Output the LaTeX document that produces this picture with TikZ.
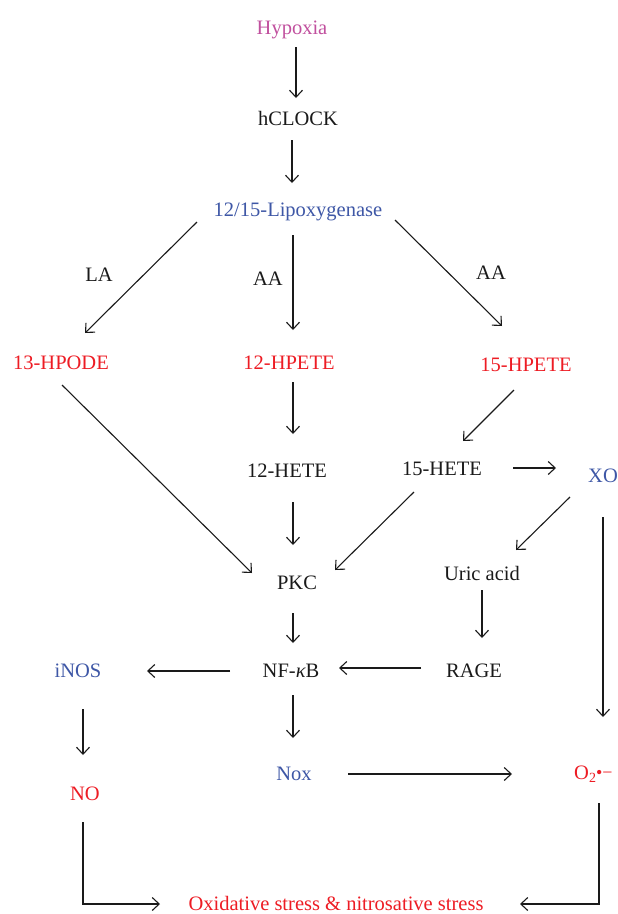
\documentclass[tikz,border=0pt]{standalone}
\usepackage{fontspec}
\setmainfont{Liberation Serif}
\usetikzlibrary{arrows.meta}
\definecolor{hypcol}{HTML}{C1509E}
\definecolor{bluecol}{HTML}{3E57A6}
\definecolor{redcol}{HTML}{ED1C24}
\definecolor{txtcol}{HTML}{1A1A1A}
\tikzset{
  lbl/.style={inner sep=0pt, anchor=base, text=txtcol, font=\fontsize{20.5}{24}\selectfont},
  redlbl/.style={lbl, text=redcol},
  bluelbl/.style={lbl, text=bluecol},
  arr/.style={line width=1.1pt, draw=txtcol, -{Straight Barb[length=7pt,width=13pt,line width=1.1pt]}},
}
\begin{document}
\begin{tikzpicture}[x=1pt,y=-1pt]
\useasboundingbox (0,0) rectangle (618,914);
% nodes
\node[lbl, text=hypcol] (hyp) at (292,34) {Hypoxia};
\node[lbl] (hc) at (298,125) {hCLOCK};
\node[bluelbl] (lip) at (298,216) {12/15-Lipoxygenase};
\node[lbl] (la) at (99,281) {LA};
\node[lbl] (aa1) at (268,285) {AA};
\node[lbl] (aa2) at (491,279) {AA};
\node[redlbl] (hpode) at (61,369) {13-HPODE};
\node[redlbl] (hpete12) at (289,369) {12-HPETE};
\node[redlbl] (hpete15) at (526,371) {15-HPETE};
\node[lbl] (hete12) at (287,477) {12-HETE};
\node[lbl] (hete15) at (442,475) {15-HETE};
\node[bluelbl] (xo) at (603,482) {XO};
\node[lbl] (pkc) at (297,589) {PKC};
\node[lbl] (uric) at (482,580) {Uric acid};
\node[lbl] (nfkb) at (291,677) {NF-{\itshape κ}B};
\node[lbl] (rage) at (474,677) {RAGE};
\node[bluelbl] (inos) at (78,677) {iNOS};
\node[bluelbl] (nox) at (294,780) {Nox};
\node[redlbl, anchor=base west] (o2) at (574,779) {O\raisebox{-0.32ex}{\fontsize{14}{14}\selectfont 2}\raisebox{0.05ex}{\fontsize{18}{18}\selectfont •−}};
\node[redlbl] (no) at (85,800) {NO};
\node[redlbl] (ox) at (336,910) {Oxidative stress \& nitrosative stress};
% connectors
\draw[arr] ([shift={(4,13)}]hyp.base) -- ([shift={(-2,-27)}]hc.base);
\draw[arr] ([shift={(-6,15)}]hc.base) -- ([shift={(-6,-33)}]lip.base);
\draw[arr] ([shift={(-101,6)}]lip.base) -- ([shift={(24,-36)}]hpode.base);
\draw[arr] ([shift={(-5,19)}]lip.base) -- ([shift={(4,-39)}]hpete12.base);
\draw[arr] ([shift={(97,4)}]lip.base) -- ([shift={(-24,-45)}]hpete15.base);
\draw[arr] ([shift={(4,13)}]hpete12.base) -- ([shift={(6,-43)}]hete12.base);
\draw[arr] ([shift={(-12,19)}]hpete15.base) -- ([shift={(21,-34)}]hete15.base);
\draw[arr] ([shift={(71,-7)}]hete15.base) -- ([shift={(-47,-14)}]xo.base);
\draw[arr] ([shift={(1,16)}]hpode.base) -- ([shift={(-45,-16)}]pkc.base);
\draw[arr] ([shift={(6,25)}]hete12.base) -- ([shift={(-4,-44)}]pkc.base);
\draw[arr] ([shift={(-28,17)}]hete15.base) -- ([shift={(38,-19)}]pkc.base);
\draw[arr] ([shift={(-33,15)}]xo.base) -- ([shift={(34,-30)}]uric.base);
\draw[arr] ([shift={(0,35)}]xo.base) -- ([shift={(29,-62)}]o2.base west);
\draw[arr] ([shift={(0,10)}]uric.base) -- ([shift={(8,-39)}]rage.base);
\draw[arr] ([shift={(-4,24)}]pkc.base) -- ([shift={(2,-34)}]nfkb.base);
\draw[arr] ([shift={(-53,-9)}]rage.base) -- ([shift={(48,-9)}]nfkb.base);
\draw[arr] ([shift={(-61,-6)}]nfkb.base) -- ([shift={(69,-6)}]inos.base);
\draw[arr] ([shift={(5,32)}]inos.base) -- ([shift={(-2,-45)}]no.base);
\draw[arr] ([shift={(2,18)}]nfkb.base) -- ([shift={(-1,-42)}]nox.base);
\draw[arr] ([shift={(54,-6)}]nox.base) -- ([shift={(-62,-5)}]o2.base west);
\draw[arr] ([shift={(-2,22)}]no.base) |- ([shift={(-176,-6)}]ox.base);
\draw[arr] ([shift={(25,24)}]o2.base west) |- ([shift={(184,-6)}]ox.base);
\end{tikzpicture}
\end{document}
